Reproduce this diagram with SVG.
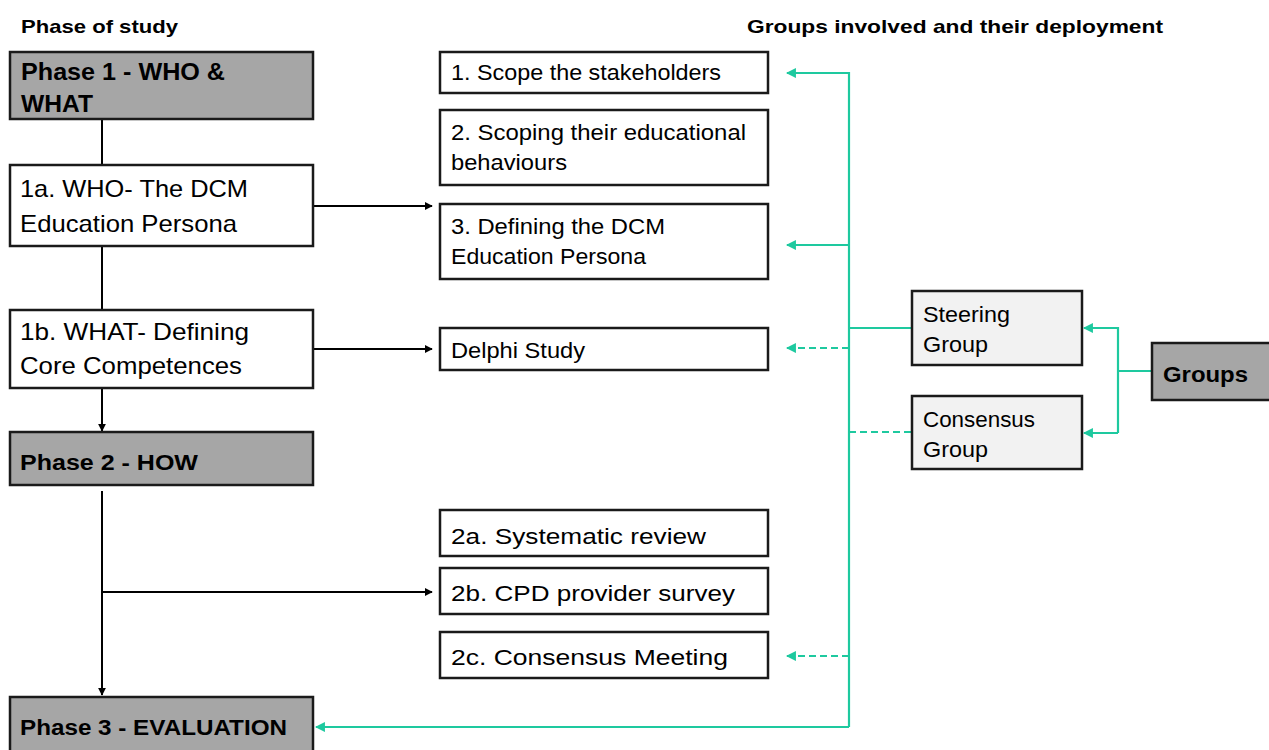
<svg xmlns="http://www.w3.org/2000/svg" width="1269" height="750" viewBox="0 0 1269 750">
<defs>
<style>
text{font-family:"Liberation Sans",Arial,sans-serif;fill:#000}
.t{font-size:22.5px}
.L{font-size:24px}
.b{font-weight:bold}
.h{font-size:19px;font-weight:bold}
.dark{fill:#a6a6a6;stroke:#1a1a1a;stroke-width:2.5}
.white{fill:#fff;stroke:#1a1a1a;stroke-width:2.5}
.light{fill:#f2f2f2;stroke:#1a1a1a;stroke-width:2.5}
.k{fill:none;stroke:#000;stroke-width:2}
.g{fill:none;stroke:#1ec99f;stroke-width:2.2}
.gd{fill:none;stroke:#1ec99f;stroke-width:2.2;stroke-dasharray:7 4}
</style>
<marker id="ak" viewBox="0 0 10 10" refX="9" refY="5" markerWidth="4" markerHeight="4" orient="auto"><path d="M0,0 L10,5 L0,10 z" fill="#000"/></marker>
<marker id="ag" viewBox="0 0 10 10" refX="9" refY="5" markerWidth="4.5" markerHeight="4.5" orient="auto"><path d="M0,0 L10,5 L0,10 z" fill="#1ec99f"/></marker>
</defs>
<rect width="1269" height="750" fill="#fff"/>
<text class="h" x="21" y="33" textLength="157" lengthAdjust="spacingAndGlyphs">Phase of study</text>
<text class="h" x="747" y="33" textLength="416" lengthAdjust="spacingAndGlyphs">Groups involved and their deployment</text>

<g id="connectors">
<line class="k" x1="102" y1="119" x2="102" y2="165"/>
<line class="k" x1="102" y1="246" x2="102" y2="310"/>
<line class="k" x1="102" y1="388" x2="102" y2="431" marker-end="url(#ak)"/>
<line class="k" x1="102" y1="491" x2="102" y2="695" marker-end="url(#ak)"/>
<line class="k" x1="102" y1="592" x2="432" y2="592" marker-end="url(#ak)"/>
<line class="k" x1="313" y1="206" x2="432" y2="206" marker-end="url(#ak)"/>
<line class="k" x1="313" y1="349" x2="432" y2="349" marker-end="url(#ak)"/>
<polyline class="g" points="849,727 849,73 787,73" marker-end="url(#ag)"/>
<line class="g" x1="849" y1="245" x2="787" y2="245" marker-end="url(#ag)"/>
<line class="gd" x1="849" y1="348" x2="787" y2="348" marker-end="url(#ag)"/>
<line class="gd" x1="849" y1="656" x2="787" y2="656" marker-end="url(#ag)"/>
<line class="g" x1="849" y1="727" x2="316" y2="727" marker-end="url(#ag)"/>
<line class="g" x1="849" y1="328" x2="912" y2="328"/>
<line class="gd" x1="849" y1="432" x2="912" y2="432"/>
<line class="g" x1="1152" y1="371" x2="1118" y2="371"/>
<polyline class="g" points="1118,433 1118,328 1084,328" marker-end="url(#ag)"/>
<line class="g" x1="1118" y1="433" x2="1084" y2="433" marker-end="url(#ag)"/>
</g>

<g id="phase1"><rect class="dark" x="10" y="52" width="303" height="67"/>
<text class="L b" x="21" y="80" textLength="204" lengthAdjust="spacingAndGlyphs">Phase 1 - WHO &amp;</text><text class="L b" x="21" y="112" textLength="72" lengthAdjust="spacingAndGlyphs">WHAT</text></g>
<g id="n1a"><rect class="white" x="10" y="165" width="303" height="81"/>
<text class="L" x="20" y="197" textLength="228" lengthAdjust="spacingAndGlyphs">1a. WHO- The DCM</text><text class="L" x="20" y="232" textLength="217" lengthAdjust="spacingAndGlyphs">Education Persona</text></g>
<g id="n1b"><rect class="white" x="10" y="310" width="303" height="78"/>
<text class="L" x="20" y="340" textLength="229" lengthAdjust="spacingAndGlyphs">1b. WHAT- Defining</text><text class="L" x="20" y="374" textLength="222" lengthAdjust="spacingAndGlyphs">Core Competences</text></g>
<g id="phase2"><rect class="dark" x="10" y="432" width="303" height="53"/>
<text class="t b" x="20" y="470" textLength="178" lengthAdjust="spacingAndGlyphs">Phase 2 - HOW</text></g>
<g id="phase3"><rect class="dark" x="10" y="697" width="303" height="60"/>
<text class="t b" x="20" y="735" textLength="267" lengthAdjust="spacingAndGlyphs">Phase 3 - EVALUATION</text></g>

<g id="s1"><rect class="white" x="440" y="52" width="328" height="41"/>
<text class="t" x="451" y="80" textLength="270" lengthAdjust="spacingAndGlyphs">1. Scope the stakeholders</text></g>
<g id="s2"><rect class="white" x="440" y="110" width="328" height="75"/>
<text class="t" x="451" y="140" textLength="295" lengthAdjust="spacingAndGlyphs">2. Scoping their educational</text><text class="t" x="451" y="170" textLength="116" lengthAdjust="spacingAndGlyphs">behaviours</text></g>
<g id="s3"><rect class="white" x="440" y="204" width="328" height="75"/>
<text class="t" x="451" y="234" textLength="214" lengthAdjust="spacingAndGlyphs">3. Defining the DCM</text><text class="t" x="451" y="264" textLength="195" lengthAdjust="spacingAndGlyphs">Education Persona</text></g>
<g id="delphi"><rect class="white" x="440" y="328" width="328" height="42"/>
<text class="t" x="451" y="358" textLength="134" lengthAdjust="spacingAndGlyphs">Delphi Study</text></g>
<g id="s2a"><rect class="white" x="440" y="510" width="328" height="46"/>
<text class="t" x="451" y="544" textLength="255" lengthAdjust="spacingAndGlyphs">2a. Systematic review</text></g>
<g id="s2b"><rect class="white" x="440" y="568" width="328" height="46"/>
<text class="t" x="451" y="601" textLength="284" lengthAdjust="spacingAndGlyphs">2b. CPD provider survey</text></g>
<g id="s2c"><rect class="white" x="440" y="632" width="328" height="46"/>
<text class="t" x="451" y="665" textLength="277" lengthAdjust="spacingAndGlyphs">2c. Consensus Meeting</text></g>

<g id="steering"><rect class="light" x="912" y="291" width="170" height="74"/>
<text class="t" x="923" y="322" textLength="87" lengthAdjust="spacingAndGlyphs">Steering</text><text class="t" x="923" y="352" textLength="65" lengthAdjust="spacingAndGlyphs">Group</text></g>
<g id="consensus"><rect class="light" x="912" y="396" width="170" height="73"/>
<text class="t" x="923" y="427" textLength="112" lengthAdjust="spacingAndGlyphs">Consensus</text><text class="t" x="923" y="457" textLength="65" lengthAdjust="spacingAndGlyphs">Group</text></g>
<g id="groups"><rect class="dark" x="1152" y="343" width="125" height="57"/>
<text class="t b" x="1163" y="382" textLength="85" lengthAdjust="spacingAndGlyphs">Groups</text></g>
</svg>
